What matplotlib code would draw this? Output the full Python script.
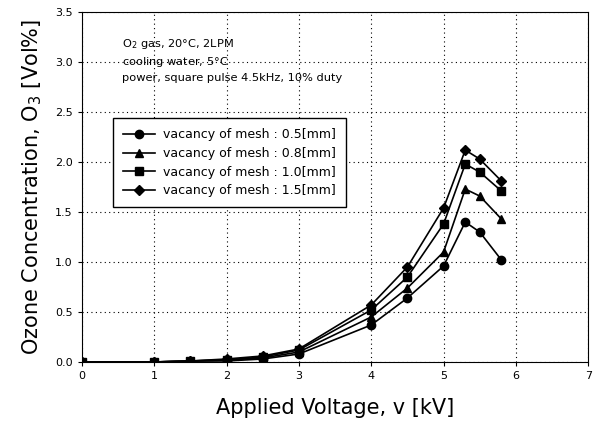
import numpy as np
import matplotlib.pyplot as plt

voltage = [0, 1, 1.5, 2, 2.5, 3, 4, 4.5, 5, 5.3, 5.5, 5.8]
mesh_05 = [0.0, 0.0, 0.01, 0.01, 0.03, 0.08, 0.37, 0.64, 0.96, 1.40, 1.30, 1.02]
mesh_08 = [0.0, 0.0, 0.01, 0.02, 0.04, 0.10, 0.45, 0.74, 1.10, 1.73, 1.66, 1.43]
mesh_10 = [0.0, 0.0, 0.01, 0.02, 0.05, 0.12, 0.52, 0.85, 1.38, 1.98, 1.90, 1.71]
mesh_15 = [0.0, 0.0, 0.01, 0.03, 0.06, 0.13, 0.57, 0.95, 1.54, 2.12, 2.03, 1.81]
labels = ['vacancy of mesh : 0.5[mm]', 'vacancy of mesh : 0.8[mm]',
          'vacancy of mesh : 1.0[mm]', 'vacancy of mesh : 1.5[mm]']

fig = plt.figure(figsize=(5.93, 4.33), dpi=100)
ax = fig.add_axes([0.138, 0.164, 0.854, 0.808])

for y, m, ms, lab in zip([mesh_05, mesh_08, mesh_10, mesh_15], ['o', '^', 's', 'D'],
                         [6, 6, 5.5, 5.5], labels):
    ax.plot(voltage, y, '-', marker=m, color='black', markersize=ms, linewidth=1.2, label=lab)

ax.set_xlim(0, 7)
ax.set_ylim(0, 3.5)
ax.set_xticks(np.arange(0, 8, 1))
ax.set_yticks(np.arange(0, 3.6, 0.5))
ax.set_yticklabels(['%.1f' % v for v in np.arange(0, 3.6, 0.5)])
ax.tick_params(labelsize=8, length=3)
ax.grid(True, linestyle=(0, (1, 3)), color='black', linewidth=0.8)

ax.set_xlabel('Applied Voltage, v [kV]', fontsize=15, labelpad=12)
ax.set_ylabel('Ozone Concentration, O$_3$ [Vol%]', fontsize=15, labelpad=8)

ax.text(0.079, 0.93, 'O$_2$ gas, 20$\\degree$C, 2LPM\ncooling water, 5$\\degree$C\npower, square pulse 4.5kHz, 10% duty',
        transform=ax.transAxes, fontsize=8.2, va='top', linespacing=1.45)

leg = ax.legend(loc='upper left', bbox_to_anchor=(0.05, 0.714), fontsize=9,
                fancybox=False, edgecolor='black', framealpha=1, handlelength=2.5,
                borderpad=0.8, labelspacing=0.45, handletextpad=0.7)
leg.get_frame().set_linewidth(1.0)

plt.savefig('out.png')
plt.close()
